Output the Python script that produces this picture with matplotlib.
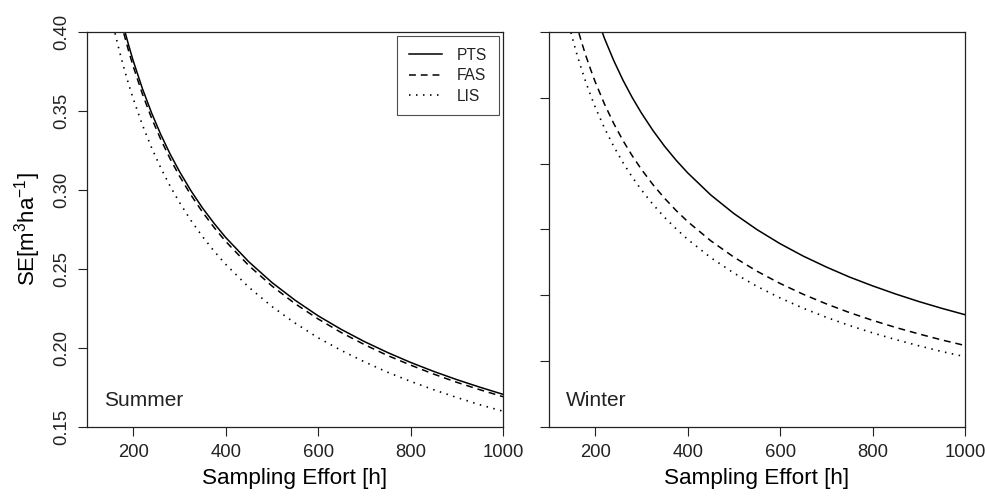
import matplotlib
matplotlib.use("Agg")
import matplotlib.pyplot as plt

plt.rcParams['font.family'] = ['Liberation Sans', 'DejaVu Sans']
plt.rcParams['mathtext.fontset'] = 'custom'
plt.rcParams['mathtext.rm'] = 'Liberation Sans'
plt.rcParams['mathtext.it'] = 'Liberation Sans:italic'

effort = [140, 150, 160, 170, 180, 190, 200, 220, 240, 260, 280, 300, 325, 350, 375,
          400, 450, 500, 550, 600, 650, 700, 750, 800, 850, 900, 950, 1000]

summer_pts = [0.456, 0.441, 0.427, 0.414, 0.4025, 0.3918, 0.3818, 0.3641, 0.3486, 0.3349,
              0.3227, 0.3118, 0.2995, 0.2886, 0.2789, 0.270, 0.2546, 0.2415, 0.2303, 0.2204,
              0.2118, 0.2041, 0.1972, 0.1909, 0.1852, 0.1800, 0.1752, 0.1707]
summer_fas = [0.4522, 0.4368, 0.4230, 0.4103, 0.3988, 0.3881, 0.3783, 0.3607, 0.3453, 0.3318,
              0.3197, 0.3089, 0.2968, 0.2860, 0.2763, 0.2675, 0.2522, 0.2393, 0.2281, 0.2184,
              0.2098, 0.2022, 0.1953, 0.1892, 0.1835, 0.1783, 0.1736, 0.1692]
summer_lis = [0.4277, 0.4131, 0.4000, 0.3881, 0.3772, 0.3671, 0.3578, 0.3411, 0.3266, 0.3138,
              0.3024, 0.2922, 0.2807, 0.2705, 0.2613, 0.2530, 0.2385, 0.2263, 0.2158, 0.2065,
              0.1985, 0.1913, 0.1847, 0.1789, 0.1736, 0.1687, 0.1641, 0.1600]

winter_pts = [0.4953, 0.4785, 0.4633, 0.4495, 0.4368, 0.4251, 0.4144, 0.3951, 0.3783, 0.3634,
              0.3502, 0.3384, 0.3251, 0.3132, 0.3026, 0.2930, 0.2762, 0.2621, 0.2499, 0.2392,
              0.2298, 0.2215, 0.2139, 0.2072, 0.2010, 0.1953, 0.1901, 0.1853]
winter_fas = [0.4327, 0.4180, 0.4048, 0.3927, 0.3816, 0.3715, 0.3620, 0.3452, 0.3305, 0.3175,
              0.3060, 0.2956, 0.2840, 0.2737, 0.2644, 0.2560, 0.2414, 0.2290, 0.2183, 0.2090,
              0.2008, 0.1935, 0.1869, 0.1810, 0.1756, 0.1707, 0.1661, 0.1619]
winter_lis = [0.4099, 0.3960, 0.3834, 0.3720, 0.3615, 0.3519, 0.3429, 0.3270, 0.3131, 0.3008,
              0.2898, 0.2800, 0.2690, 0.2592, 0.2505, 0.2425, 0.2286, 0.2169, 0.2068, 0.1980,
              0.1902, 0.1833, 0.1771, 0.1715, 0.1664, 0.1617, 0.1573, 0.1534]

series_names = ["PTS", "FAS", "LIS"]
x_ticks = [200, 400, 600, 800, 1000]
summer_yticks = [0.15, 0.20, 0.25, 0.30, 0.35, 0.40]
winter_yticks = [0.10, 0.15, 0.20, 0.25, 0.30, 0.35, 0.40]

fig = plt.figure(figsize=(9.85, 4.96), dpi=100)
ax1 = fig.add_axes([0.0883, 0.1391, 0.4223, 0.7964])
ax2 = fig.add_axes([0.5574, 0.1391, 0.4223, 0.7964])

styles = [dict(linestyle='-', lw=1.1),
          dict(linestyle=(0, (4.5, 3.2)), lw=1.1),
          dict(linestyle=(0, (0.9, 3.3)), lw=1.2)]

for ax, data, label in [(ax1, [summer_pts, summer_fas, summer_lis], "Summer"),
                        (ax2, [winter_pts, winter_fas, winter_lis], "Winter")]:
    for vals, st, name in zip(data, styles, series_names):
        ax.plot(effort, vals, color='black', label=name, **st)
    ax.set_xlim(100, 1000)
    ax.set_xticks(x_ticks)
    ax.set_xticklabels([str(t) for t in x_ticks], fontsize=13.3)
    ax.set_xlabel("Sampling Effort [h]", fontsize=16.2, labelpad=5)
    ax.tick_params(direction='out', length=6.3, width=0.8, pad=6, colors='#222222')
    for sp in ax.spines.values():
        sp.set_linewidth(0.9)
        sp.set_color('#222222')
    ax.text(0.04, 0.066, label, transform=ax.transAxes, fontsize=15,
            ha='left', va='center', color='#222222')

ax1.set_ylim(0.15, 0.40)
ax1.set_yticks(summer_yticks)
ax1.set_yticklabels(["%.2f" % t for t in summer_yticks], rotation=90, va='center', fontsize=13.3)
ax1.set_ylabel(r"SE[m$^3$ha$^{-1}$]", fontsize=16, labelpad=7)

ax2.set_ylim(0.10, 0.40)
ax2.set_yticks(winter_yticks)
ax2.set_yticklabels([])

leg = ax1.legend(loc='upper right', fontsize=11.2, frameon=True, fancybox=False,
                 edgecolor='#222222', borderaxespad=0.25, handlelength=2.1,
                 handletextpad=1.0, borderpad=0.75, labelspacing=0.36)
leg.get_frame().set_linewidth(0.8)
for t in leg.get_texts():
    t.set_color('#222222')

fig.savefig("out.png", dpi=100)
